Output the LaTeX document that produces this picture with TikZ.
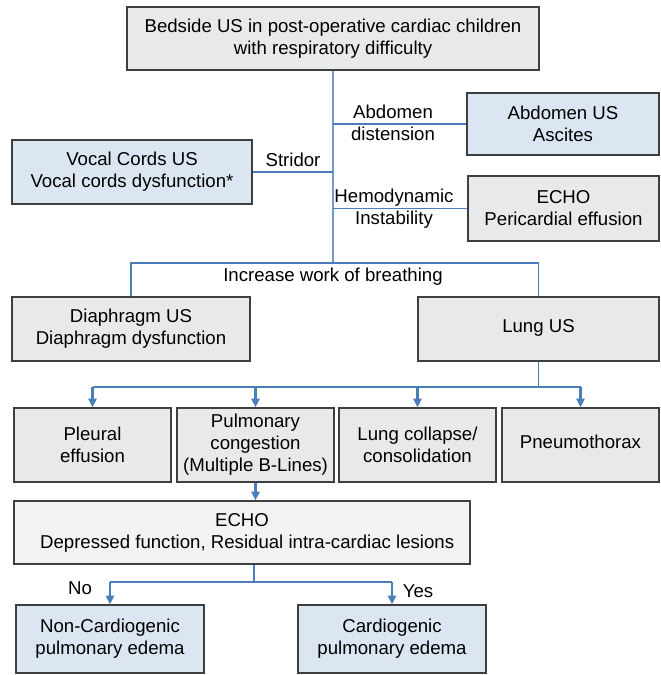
\documentclass[tikz,border=0pt]{standalone}
\usepackage{fontspec}
\setmainfont{Liberation Sans}
\usepackage{tikz}
\usepackage{xcolor}
\usetikzlibrary{arrows.meta}
\definecolor{boxline}{HTML}{3F3F3F}
\definecolor{greyfill}{HTML}{E8E9EB}
\definecolor{paleFill}{HTML}{F1F2F3}
\definecolor{blueFill}{HTML}{DCE6F2}
\definecolor{linkblue}{HTML}{4A7EBB}
\definecolor{trunkblue}{HTML}{6F9BD1}

\begin{document}
\begin{tikzpicture}[x=0.02cm,y=-0.02cm,
        box/.style={draw=boxline,line width=0.7pt,align=center,inner sep=0pt,
            font=\fontsize{10.6}{12.6}\selectfont},
        greybox/.style={box,fill=greyfill},
        bluebox/.style={box,fill=blueFill},
        palebox/.style={box,fill=paleFill},
        link/.style={draw=linkblue,line width=1.1pt},
        arr/.style={link,line width=1.5pt,-{Triangle[length=5pt,width=4.6pt]}},
        lbl/.style={align=center,inner sep=0pt,font=\fontsize{10.6}{12.6}\selectfont}]
        \useasboundingbox (0,0) rectangle (661,675);

        \node[greybox,minimum width=8.24cm,minimum height=1.26cm] (top) at (333,38.5)
            {Bedside US in post-operative cardiac children\\with respiratory difficulty};
        \node[bluebox,minimum width=3.84cm,minimum height=1.24cm] (abd) at (563,124)
            {Abdomen US\\Ascites};
        \node[bluebox,minimum width=4.8cm,minimum height=1.28cm] (vocal) at (132,172)
            {Vocal Cords US\\Vocal cords dysfunction*};
        \node[greybox,minimum width=3.82cm,minimum height=1.3cm] (echoA) at (563.5,208.5)
            {ECHO\\Pericardial effusion};
        \node[greybox,minimum width=4.76cm,minimum height=1.28cm] (diaph) at (131,329)
            {Diaphragm US\\Diaphragm dysfunction};
        \node[greybox,minimum width=4.82cm,minimum height=1.28cm] (lung) at (538.5,329)
            {\raisebox{3pt}{Lung US}};
        \node[greybox,minimum width=3.14cm,minimum height=1.48cm] (pleural) at (92.5,445)
            {Pleural\\effusion};
        \node[greybox,minimum width=3.14cm,minimum height=1.48cm] (pulm) at (255.5,445)
            {Pulmonary\\congestion\\(Multiple B-Lines)};
        \node[greybox,minimum width=3.14cm,minimum height=1.48cm] (coll) at (417.5,445)
            {Lung collapse/\\consolidation};
        \node[greybox,minimum width=3.14cm,minimum height=1.48cm] (pneu) at (580.5,445)
            {\raisebox{4pt}{Pneumothorax}};
        \node[palebox,minimum width=9.12cm,minimum height=1.26cm] (echoB) at (242,532.5)
            {ECHO\\\ \ Depressed function, Residual intra-cardiac lesions};
        \node[bluebox,minimum width=3.76cm,minimum height=1.36cm] (noncard) at (110,639)
            {Non-Cardiogenic\\pulmonary edema};
        \node[bluebox,minimum width=3.76cm,minimum height=1.36cm] (card) at (392,639)
            {Cardiogenic\\pulmonary edema};

        \coordinate (j1) at (333,263);
        \coordinate (j2) at (538.5,387);
        \coordinate (j3) at (254,582);

        \draw[draw=trunkblue,line width=0.9pt] (top.south) -- (j1);
        \draw[link] (abd.west -| top.south) -- (abd.west);
        \draw[link] (vocal.east) -- (vocal.east -| top.south);
        \draw[link] (echoA.west -| top.south) -- (echoA.west);
        \node[lbl] (abdtxt) at (393,123) {Abdomen\\distension};
        \node[lbl] (stridtxt) at (293,160) {Stridor};
        \node[lbl] (hemotxt) at (394,209) {Hemodynamic\\Instability};

        \draw[link] (diaph.north) |- (j1) -| (lung.north);
        \node[lbl] (worktxt) at (333,277) {Increase work of breathing};

        \draw[link] (lung.south) -- (j2);
        \draw[link] (pleural.north |- j2) -- (pneu.north |- j2);
        \foreach \n in {pleural,pulm,coll,pneu}
            \draw[arr] (\n.north |- j2) -- (\n.north);

        \draw[arr] (pulm.south) -- (pulm.south |- echoB.north);

        \draw[link,line width=0.8pt] (j3 |- echoB.south) -- (j3);
        \draw[link] (noncard.north |- j3) -- (card.north |- j3);
        \draw[arr] (noncard.north |- j3) -- (noncard.north);
        \draw[arr] (card.north |- j3) -- (card.north);
        \node[lbl] (notxt) at (80,588) {No};
        \node[lbl] (yestxt) at (418,591) {Yes};
    \end{tikzpicture}
\end{document}
